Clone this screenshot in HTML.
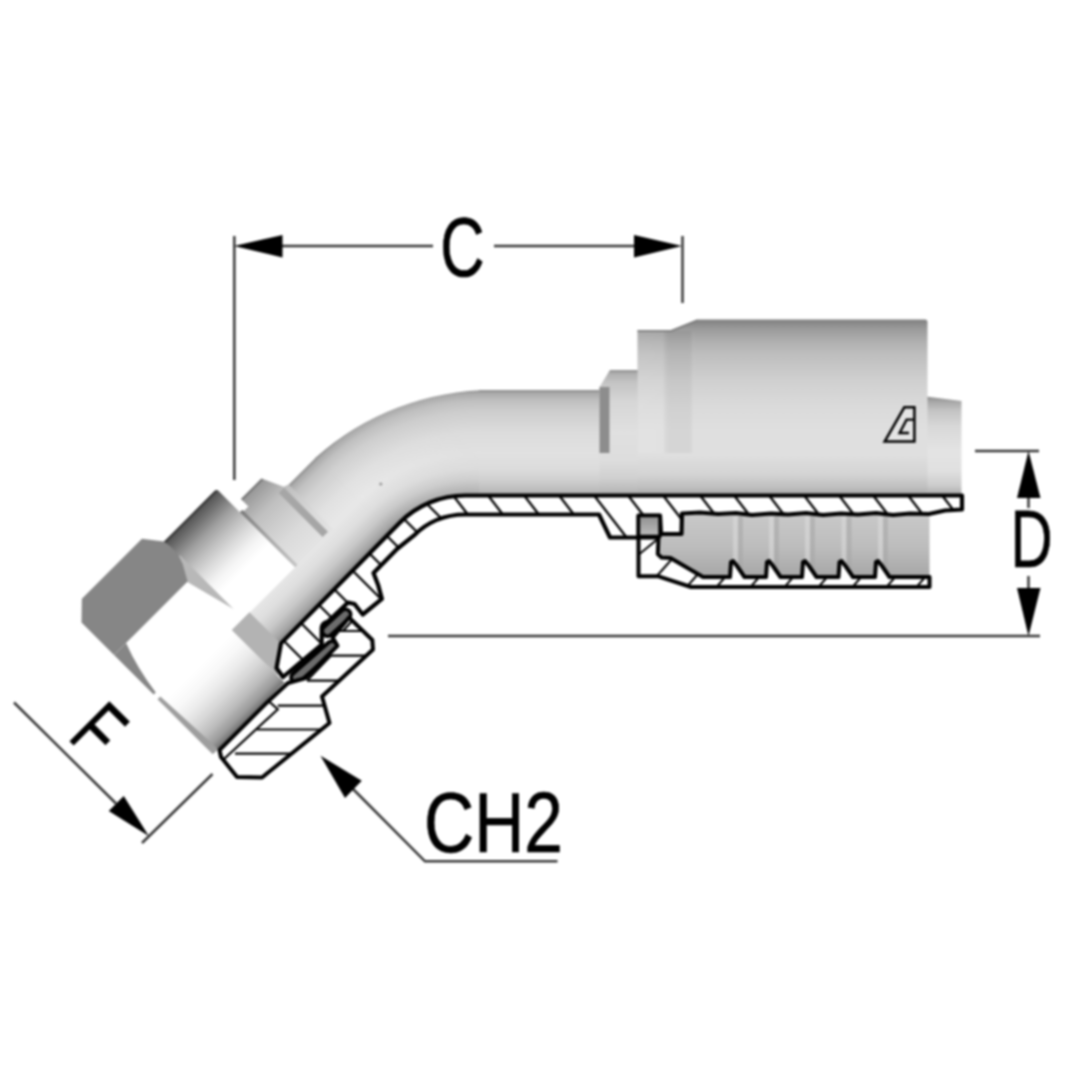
<!DOCTYPE html>
<html lang="en">
<head>
<meta charset="utf-8">
<title>Hose fitting dimensional drawing</title>
<style>
html,body{margin:0;padding:0;background:#fff;}
body{width:1080px;height:1080px;overflow:hidden;}
svg{display:block;}
text{font-family:"Liberation Sans",sans-serif;fill:#000;}
</style>
</head>
<body>
<svg width="1080" height="1080" viewBox="0 0 1080 1080">
<defs>
  <filter id="fSoft" x="0" y="0" width="1080" height="1080" filterUnits="userSpaceOnUse" color-interpolation-filters="sRGB">
    <feGaussianBlur stdDeviation="0.9"/>
  </filter>
  <!-- horizontal tube shading (top 390 -> bottom 495) -->
  <linearGradient id="gTube" gradientUnits="userSpaceOnUse" x1="0" y1="390" x2="0" y2="495.5">
    <stop offset="0" stop-color="#8a8a8a"/>
    <stop offset="0.03" stop-color="#a9a9a9"/>
    <stop offset="0.1" stop-color="#bfbfbf"/>
    <stop offset="0.2" stop-color="#cdcdcd"/>
    <stop offset="0.4" stop-color="#dcdcdc"/>
    <stop offset="0.6" stop-color="#e1e1e1"/>
    <stop offset="0.75" stop-color="#dcdcdc"/>
    <stop offset="0.85" stop-color="#d0d0d0"/>
    <stop offset="0.95" stop-color="#bcbcbc"/>
    <stop offset="1" stop-color="#a8a8a8"/>
  </linearGradient>
  <!-- bend shading: radial about bend centre -->
  <radialGradient id="gBend" gradientUnits="userSpaceOnUse" cx="479" cy="621" r="231" fx="479" fy="621">
    <stop offset="0.5433" stop-color="#a8a8a8"/>
    <stop offset="0.5661" stop-color="#bcbcbc"/>
    <stop offset="0.6118" stop-color="#d0d0d0"/>
    <stop offset="0.6575" stop-color="#dcdcdc"/>
    <stop offset="0.726" stop-color="#e1e1e1"/>
    <stop offset="0.8173" stop-color="#dcdcdc"/>
    <stop offset="0.9087" stop-color="#cdcdcd"/>
    <stop offset="0.9543" stop-color="#bfbfbf"/>
    <stop offset="0.9863" stop-color="#a9a9a9"/>
    <stop offset="1.0" stop-color="#8a8a8a"/>
  </radialGradient>
  <!-- 45deg tube shading in local frame (b -53 .. 52.5) -->
  <linearGradient id="gTube45" gradientUnits="userSpaceOnUse" x1="0" y1="-53" x2="0" y2="52.5">
    <stop offset="0" stop-color="#8a8a8a"/>
    <stop offset="0.03" stop-color="#a9a9a9"/>
    <stop offset="0.1" stop-color="#c0c0c0"/>
    <stop offset="0.2" stop-color="#d0d0d0"/>
    <stop offset="0.4" stop-color="#e1e1e1"/>
    <stop offset="0.58" stop-color="#e8e8e8"/>
    <stop offset="0.72" stop-color="#dedede"/>
    <stop offset="0.84" stop-color="#c8c8c8"/>
    <stop offset="0.94" stop-color="#a8a8a8"/>
    <stop offset="1" stop-color="#8a8a8a"/>
  </linearGradient>
  <linearGradient id="gColl" gradientUnits="userSpaceOnUse" x1="0" y1="370" x2="0" y2="495.5">
    <stop offset="0" stop-color="#8e8e8e"/>
    <stop offset="0.03" stop-color="#b0b0b0"/>
    <stop offset="0.1" stop-color="#c4c4c4"/>
    <stop offset="0.25" stop-color="#d6d6d6"/>
    <stop offset="0.5" stop-color="#e0e0e0"/>
    <stop offset="0.72" stop-color="#dddddd"/>
    <stop offset="0.86" stop-color="#d0d0d0"/>
    <stop offset="0.95" stop-color="#bcbcbc"/>
    <stop offset="1" stop-color="#a8a8a8"/>
  </linearGradient>
  <radialGradient id="gBend45" gradientUnits="userSpaceOnUse" cx="479" cy="621" r="231" fx="479" fy="621">
    <stop offset="0.5433" stop-color="#8a8a8a"/>
    <stop offset="0.5707" stop-color="#a8a8a8"/>
    <stop offset="0.6164" stop-color="#c8c8c8"/>
    <stop offset="0.6712" stop-color="#dedede"/>
    <stop offset="0.7351" stop-color="#e8e8e8"/>
    <stop offset="0.8173" stop-color="#e1e1e1"/>
    <stop offset="0.9087" stop-color="#d0d0d0"/>
    <stop offset="0.9543" stop-color="#c0c0c0"/>
    <stop offset="0.9863" stop-color="#a9a9a9"/>
    <stop offset="1.0" stop-color="#8a8a8a"/>
  </radialGradient>
  <linearGradient id="gFade" gradientUnits="userSpaceOnUse" x1="355" y1="493" x2="435" y2="413">
    <stop offset="0" stop-color="#ffffff"/>
    <stop offset="1" stop-color="#000000"/>
  </linearGradient>
  <mask id="mBend" maskUnits="userSpaceOnUse" x="300" y="380" width="200" height="160">
    <rect x="300" y="380" width="200" height="160" fill="url(#gFade)"/>
  </mask>
  <linearGradient id="gTail" gradientUnits="userSpaceOnUse" x1="0" y1="397" x2="0" y2="495.5">
    <stop offset="0" stop-color="#8e8e8e"/>
    <stop offset="0.05" stop-color="#a8a8a8"/>
    <stop offset="0.14" stop-color="#c4c4c4"/>
    <stop offset="0.3" stop-color="#d8d8d8"/>
    <stop offset="0.55" stop-color="#e4e4e4"/>
    <stop offset="0.75" stop-color="#e0e0e0"/>
    <stop offset="0.9" stop-color="#cccccc"/>
    <stop offset="1" stop-color="#a8a8a8"/>
  </linearGradient>
  <linearGradient id="gShad" gradientUnits="userSpaceOnUse" x1="0" y1="-68" x2="0" y2="10">
    <stop offset="0" stop-color="#7a7a7a"/>
    <stop offset="0.5" stop-color="#a8a8a8"/>
    <stop offset="1" stop-color="#c4c4c4"/>
  </linearGradient>
  <linearGradient id="gBandX" gradientUnits="userSpaceOnUse" x1="638" y1="0" x2="694" y2="0">
    <stop offset="0" stop-color="#ffffff" stop-opacity="0.10"/>
    <stop offset="0.44" stop-color="#ffffff" stop-opacity="0.08"/>
    <stop offset="0.56" stop-color="#000000" stop-opacity="0.045"/>
    <stop offset="0.93" stop-color="#000000" stop-opacity="0.045"/>
    <stop offset="1" stop-color="#ffffff" stop-opacity="0.05"/>
  </linearGradient>
  <!-- ferrule shading (319.5 -> 495) -->
  <linearGradient id="gFer" gradientUnits="userSpaceOnUse" x1="0" y1="319" x2="0" y2="495.5">
    <stop offset="0" stop-color="#7e7e7e"/>
    <stop offset="0.03" stop-color="#8e8e8e"/>
    <stop offset="0.06" stop-color="#9c9c9c"/>
    <stop offset="0.13" stop-color="#b0b0b0"/>
    <stop offset="0.2" stop-color="#bebebe"/>
    <stop offset="0.35" stop-color="#d0d0d0"/>
    <stop offset="0.49" stop-color="#dadada"/>
    <stop offset="0.63" stop-color="#dfdfdf"/>
    <stop offset="0.77" stop-color="#dfdfdf"/>
    <stop offset="0.88" stop-color="#d4d4d4"/>
    <stop offset="0.95" stop-color="#c0c0c0"/>
    <stop offset="1" stop-color="#a8a8a8"/>
  </linearGradient>
  <linearGradient id="gCav" gradientUnits="userSpaceOnUse" x1="0" y1="513" x2="0" y2="580">
    <stop offset="0" stop-color="#c9c9c9"/>
    <stop offset="0.5" stop-color="#bdbdbd"/>
    <stop offset="1" stop-color="#a4a4a4"/>
  </linearGradient>
  <!-- nut round part in local frame (b -101 .. 10) -->
  <linearGradient id="gNutR" gradientUnits="userSpaceOnUse" x1="0" y1="-101" x2="0" y2="10">
    <stop offset="0" stop-color="#262626"/>
    <stop offset="0.03" stop-color="#585858"/>
    <stop offset="0.108" stop-color="#747474"/>
    <stop offset="0.225" stop-color="#a0a0a0"/>
    <stop offset="0.342" stop-color="#c0c0c0"/>
    <stop offset="0.46" stop-color="#dcdcdc"/>
    <stop offset="0.577" stop-color="#f4f4f4"/>
    <stop offset="0.69" stop-color="#ffffff"/>
    <stop offset="1" stop-color="#ffffff"/>
  </linearGradient>
  <!-- nut lower face (b 12 .. 84) -->
  <linearGradient id="gNutL" gradientUnits="userSpaceOnUse" x1="0" y1="12" x2="0" y2="84">
    <stop offset="0" stop-color="#ffffff"/>
    <stop offset="0.2" stop-color="#f8f8f8"/>
    <stop offset="0.375" stop-color="#ebebeb"/>
    <stop offset="0.55" stop-color="#d8d8d8"/>
    <stop offset="0.74" stop-color="#bcbcbc"/>
    <stop offset="0.9" stop-color="#9a9a9a"/>
    <stop offset="1" stop-color="#707070"/>
  </linearGradient>
  <linearGradient id="gCol" gradientUnits="userSpaceOnUse" x1="0" y1="-77" x2="0" y2="10">
    <stop offset="0" stop-color="#5a5a5a"/>
    <stop offset="0.04" stop-color="#9a9a9a"/>
    <stop offset="0.3" stop-color="#c0c0c0"/>
    <stop offset="0.7" stop-color="#dadada"/>
    <stop offset="1" stop-color="#e4e4e4"/>
  </linearGradient>
</defs>

<rect x="0" y="0" width="1080" height="1080" fill="#ffffff"/>
<g id="drawing" filter="url(#fSoft)">

<!-- ===================== BODY : shaded exterior ===================== -->
<!-- 45 degree part, local frame: x=a along axis (up-right), y=b across (down-right) -->
<g id="arm" transform="translate(300,548.25) rotate(-45)">
  <!-- tube, 45deg run -->
  <path d="M-82,-53 L75.5,-53 L75.5,52.5 L-82,52.5 Z" fill="url(#gTube45)"/>
  <!-- collar -->
  <path d="M-7,-76.5 L22,-76.5 L32,-55 L37,-53 L37,10 L-18,10 L-18,-66 L-7,-66 Z" fill="url(#gCol)"/>
  <rect x="24" y="-54" width="7.5" height="62" fill="#a6a6a6"/>
  <rect x="-17.5" y="-68" width="4" height="78" fill="url(#gShad)"/>
  <!-- nut round part -->
  <path d="M-92,-101 L-20,-101 Q-17,-101 -17,-98 L-17,10 L-92,10 Z" fill="url(#gNutR)"/>
  <!-- chamfer wedge between hex and round part -->
  <path d="M-104,-57 L-98,-80 L-90,-80 L-90,-4 Z" fill="#b8b8b8"/>
  <!-- nut hex: white face -->
  <path d="M-206,-57 L-104,-57 L-91,-6 L-104,18 L-206,18 Z" fill="#ffffff"/>
  <!-- nut lower gradient face -->
  <rect x="-206" y="12" width="100" height="72" fill="url(#gNutL)"/>
  <!-- grey patch -->
  <path d="M-106,9.5 L-81,9.5 L-81,53 L-90,62 L-106,74 Z" fill="#b3b3b3"/>
  <!-- end-face slivers -->
  <path d="M-190,-56 Q-200,-30 -204,0 L-207,0 L-207,-56 Z" fill="#868686"/>
  <path d="M-203.5,6 L-207.5,6 L-207.5,84 L-200,84 Z" fill="#9e9e9e"/>
  <!-- hex grey face -->
  <path d="M-207,-102 L-190,-118.5 L-105,-118.5 L-91.5,-101 Q-88,-85 -94,-72 L-103,-56 L-207,-56 Z" fill="#868686"/>
</g>

<g id="body">
  <!-- bend -->
  <path d="M493,390 A265,265 0 0 0 315.4,458.1 L389.8,532.6 L399.95,522.45 A92,92 0 0 1 465,495.5 L493,495.5 Z" fill="url(#gBend)"/>
  <path d="M493,390 A265,265 0 0 0 315.4,458.1 L389.8,532.6 L399.95,522.45 A92,92 0 0 1 465,495.5 L493,495.5 Z" fill="url(#gBend45)" mask="url(#mBend)"/>
  <!-- horizontal tube -->
  <rect x="479" y="390" width="122" height="105.5" fill="url(#gTube)"/>
  <!-- small collar -->
  <path d="M599.5,387 L610,370 L638,370 L638,495.5 L599.5,495.5 Z" fill="url(#gColl)"/>
  <rect x="599.5" y="387" width="10" height="66" fill="#8d8d8d"/>
  <!-- hose tail -->
  <path d="M926,396.5 L961.5,401 L961.5,495.5 L926,495.5 Z" fill="url(#gTail)"/>
  <!-- ferrule -->
  <path d="M637.5,330 L671,330 L697,319.5 L925,319.5 Q927.5,319.5 927.5,322 L927.5,495.5 L637.5,495.5 Z" fill="url(#gFer)"/>
  <rect x="638" y="331" width="56" height="122" fill="url(#gBandX)"/>
  <path d="M637.5,331 L671.3,331 L697.3,320.4" fill="none" stroke="#7c7c7c" stroke-width="2" opacity="0.75"/>
  <circle cx="380.8" cy="484" r="1.6" fill="#9a9a9a"/>
</g>




<!-- ===================== SECTION (cut-away) ===================== -->
<defs>
  <clipPath id="cWall"><path d="M962,495.5 L465,495.5 A92,92 0 0 0 399.95,522.45 L281,643.4 L276.5,668 L283,677 L321.7,644.6 L321.7,628 Q322,623 328,621.5 L348,602.5 L354.5,604 L362.7,614.5 L381.9,598.9 L378.3,585.6 L373.5,573 L397,549 L413.4,535.9 A73,73 0 0 1 465,514.5 L599,514.5 L610,537.5 L638.5,537.5 L638.5,515.5 L660,515.5 L661,534 L681.5,534 L682,513.5 L700,512.5 L718,514 L736,513 L752,515 L771,513.5 L788,514.5 L806,513 L823,515 L841,513.5 L858,514.5 L876,513 L893,515 L910,513.5 L929,514 L945,510.5 L962,509.5 Z"/></clipPath>
  <clipPath id="cNut"><path d="M219.5,750 L221,757 L237,777 L262,777.5 L329.5,723 L322,696.5 L373,649.5 L372.3,640 L349,617.5 L332.6,637.4 L337.4,645.8 L304.9,678.3 L288,683 L268.5,701 Z"/></clipPath>
  <clipPath id="cFer"><path d="M638.5,537.5 L638.5,576.3 L658.5,576.3 L691,587 L929.5,587 L929.5,577 L889.5,577 L882,566 L878,561 L876,562 L875,577 L853.0,577 L845.5,566 L841.5,561 L839.5,562 L838.5,577 L816.5,577 L809,566 L805,561 L803,562 L802,577 L780.5,577 L773,566 L769,561 L767,562 L766,577 L744.5,577 L737,566 L733,561 L731,562 L730,577 L703,577 L670.5,558 L661.5,557.5 L657.8,554 L658.5,537.5 Z"/></clipPath>
  <linearGradient id="gRing" x1="0" y1="0" x2="0" y2="1">
    <stop offset="0" stop-color="#8f8f8f"/>
    <stop offset="1" stop-color="#bdbdbd"/>
  </linearGradient>
</defs>
<g id="section">
  <!-- ferrule cavity -->
  <path d="M661,534 L681.5,534 L682,513.5 L929.5,513.5 L929.5,578 L703,578 L670.5,558 L657.8,554 L658.5,536 Z" fill="url(#gCav)"/>
  <g>
    <rect x="733" y="516" width="5" height="46" fill="#dcdcdc" opacity="0.55"/>
    <rect x="738" y="516" width="5" height="60" fill="#a6a6a6" opacity="0.55"/>
    <rect x="769" y="516" width="5" height="46" fill="#dcdcdc" opacity="0.55"/>
    <rect x="774" y="516" width="5" height="60" fill="#a6a6a6" opacity="0.55"/>
    <rect x="805" y="516" width="5" height="46" fill="#dcdcdc" opacity="0.55"/>
    <rect x="810" y="516" width="5" height="60" fill="#a6a6a6" opacity="0.55"/>
    <rect x="841.5" y="516" width="5" height="46" fill="#dcdcdc" opacity="0.55"/>
    <rect x="846.5" y="516" width="5" height="60" fill="#a6a6a6" opacity="0.55"/>
    <rect x="878" y="516" width="5" height="46" fill="#dcdcdc" opacity="0.55"/>
    <rect x="883" y="516" width="5" height="60" fill="#a6a6a6" opacity="0.55"/>
  </g>

  <!-- seals (dark grey) -->
  <g fill="none" stroke-linecap="round">
    <path d="M296.5,677.5 L332,646.5" stroke="#000" stroke-width="14.5"/>
    <path d="M296.5,677.5 L332,646.5" stroke="#6c6c6c" stroke-width="6.6"/>
    <path d="M327.5,631 L345.5,614.5" stroke="#000" stroke-width="14"/>
    <path d="M327.5,631 L345.5,614.5" stroke="#6c6c6c" stroke-width="6.6"/>
  </g>

  <!-- tube wall -->
  <path d="M962,495.5 L465,495.5 A92,92 0 0 0 399.95,522.45 L281,643.4 L276.5,668 L283,677 L321.7,644.6 L321.7,628 Q322,623 328,621.5 L348,602.5 L354.5,604 L362.7,614.5 L381.9,598.9 L378.3,585.6 L373.5,573 L397,549 L413.4,535.9 A73,73 0 0 1 465,514.5 L599,514.5 L610,537.5 L638.5,537.5 L638.5,515.5 L660,515.5 L661,534 L681.5,534 L682,513.5 L700,512.5 L718,514 L736,513 L752,515 L771,513.5 L788,514.5 L806,513 L823,515 L841,513.5 L858,514.5 L876,513 L893,515 L910,513.5 L929,514 L945,510.5 L962,509.5 Z" fill="#ffffff" stroke="#000" stroke-width="4.2" stroke-linejoin="round"/>
  <g clip-path="url(#cWall)" stroke="#000" stroke-width="2.3" fill="none">
    <path d="M452,494 l34,44 M487,494 l34,44 M523,494 l34,44 M558,494 l34,44 M593,494 l34,44 M627,494 l34,44 M662,494 l34,44 M699,494 l34,44 M733,494 l34,44 M768,494 l34,44 M803,494 l34,44 M838,494 l34,44 M872,494 l34,44 M907,494 l34,44 M941,494 l34,44"/>
    <path d="M428,505 l20,20 M403,518 l20,20 M383,532 l22,22 M366,550 l22,22 M349,567 l32,32 M333,588 l22,22 M317,603 l22,22 M300,622 l26,26 M283,640 l26,26"/>
  </g>

  <!-- nut section -->
  <path d="M219.5,750 L221,757 L237,777 L262,777.5 L329.5,723 L322,696.5 L373,649.5 L372.3,640 L349,617.5 L332.6,637.4 L337.4,645.8 L304.9,678.3 L288,683 L268.5,701 Z" fill="#ffffff" stroke="#000" stroke-width="4" stroke-linejoin="round"/>
  <g clip-path="url(#cNut)" stroke="#000" stroke-width="2.2" fill="none">
    <path d="M340,631 H364 M331,655.6 H365 M307,680.6 H342 M277.8,705.6 H326 M257,729.5 H326 M235,753.7 H292"/>
    <path d="M224,759 L277.8,709.3 L268.5,701"/>
    <path d="M307,680.6 L331,655.6"/>
    <path d="M343,631 L352,621"/>
  </g>

  <!-- ferrule lower section -->
  <path d="M638.5,537.5 L638.5,576.3 L658.5,576.3 L691,587 L929.5,587 L929.5,577 L889.5,577 L882,566 L878,561 L876,562 L875,577 L853.0,577 L845.5,566 L841.5,561 L839.5,562 L838.5,577 L816.5,577 L809,566 L805,561 L803,562 L802,577 L780.5,577 L773,566 L769,561 L767,562 L766,577 L744.5,577 L737,566 L733,561 L731,562 L730,577 L703,577 L670.5,558 L661.5,557.5 L657.8,554 L658.5,537.5 Z" fill="#ffffff" stroke="#000" stroke-width="4" stroke-linejoin="round"/>
  <g clip-path="url(#cFer)" stroke="#000" stroke-width="2" fill="none">
    <path d="M637,556 L659,538 M656,577 L672,559 M684,590 L698,574 M714,590 L726,576 M748,590 L760,576 M782,590 L794,576 M816,590 L828,576 M850,590 L862,576 M884,590 L896,576 M914,590 L926,576"/>
  </g>
  <!-- o-ring square -->
  <rect x="638.5" y="515.5" width="21.5" height="21" fill="url(#gRing)" stroke="#000" stroke-width="3.4" stroke-linejoin="round"/>
</g>

<!-- logo -->
<g id="logo" fill="none" stroke="#000" stroke-width="2.5" stroke-linejoin="miter">
  <path d="M884.6,441.6 L904.3,407.3 L914.4,407.3 L914.4,441.6 Z" fill="#e4e4e4"/>
  <path d="M913.5,419.6 L906.6,419.6 L899.6,433 L909,433" stroke-width="2.4"/>
</g>

<!-- ===================== DIMENSIONS ===================== -->
<g id="dims" stroke="#383838" stroke-width="2.5" fill="none">
  <line x1="234.3" y1="236" x2="234.3" y2="480"/>
  <line x1="682.5" y1="236" x2="682.5" y2="303"/>
  <line x1="282" y1="246" x2="433" y2="246"/>
  <line x1="494" y1="246" x2="634" y2="246"/>
  <line x1="975" y1="451" x2="1039" y2="451"/>
  <line x1="388" y1="636" x2="1040" y2="636"/>
  <line x1="1028.5" y1="497" x2="1028.5" y2="508"/>
  <line x1="1028.5" y1="576" x2="1028.5" y2="588"/>
  <line x1="14" y1="702.5" x2="116" y2="803.5"/>
  <line x1="212.5" y1="774" x2="142" y2="843"/>
  <polyline points="353,789 425,861.3 557.5,861.3"/>
</g>
<g id="arrows" fill="#000">
  <polygon points="234,246 282.5,235 282.5,257.5"/>
  <polygon points="682,246 634,235 634,257.5"/>
  <polygon points="1028.5,451 1017,498 1040.5,498"/>
  <polygon points="1028.5,636 1017,588 1040.5,588"/>
  <polygon points="148.75,836 108.75,811 123.75,796"/>
  <polygon points="320.5,755.75 345,798 361.75,780.75"/>
</g>
<g id="labels" stroke="#000" stroke-width="0.7" stroke-linejoin="round">
  <text transform="translate(462.5,276) scale(0.74,1)" font-size="83" text-anchor="middle">C</text>
  <text transform="translate(1031.5,567) scale(0.72,1)" font-size="81" text-anchor="middle">D</text>
  <text transform="translate(493.5,852.3) scale(0.822,1)" font-size="84.5" text-anchor="middle">CH2</text>
  <text transform="translate(99,730.5) rotate(45) scale(0.72,1)" font-size="81" text-anchor="middle" dy="28">F</text>
</g>
</g>
</svg>
</body>
</html>
